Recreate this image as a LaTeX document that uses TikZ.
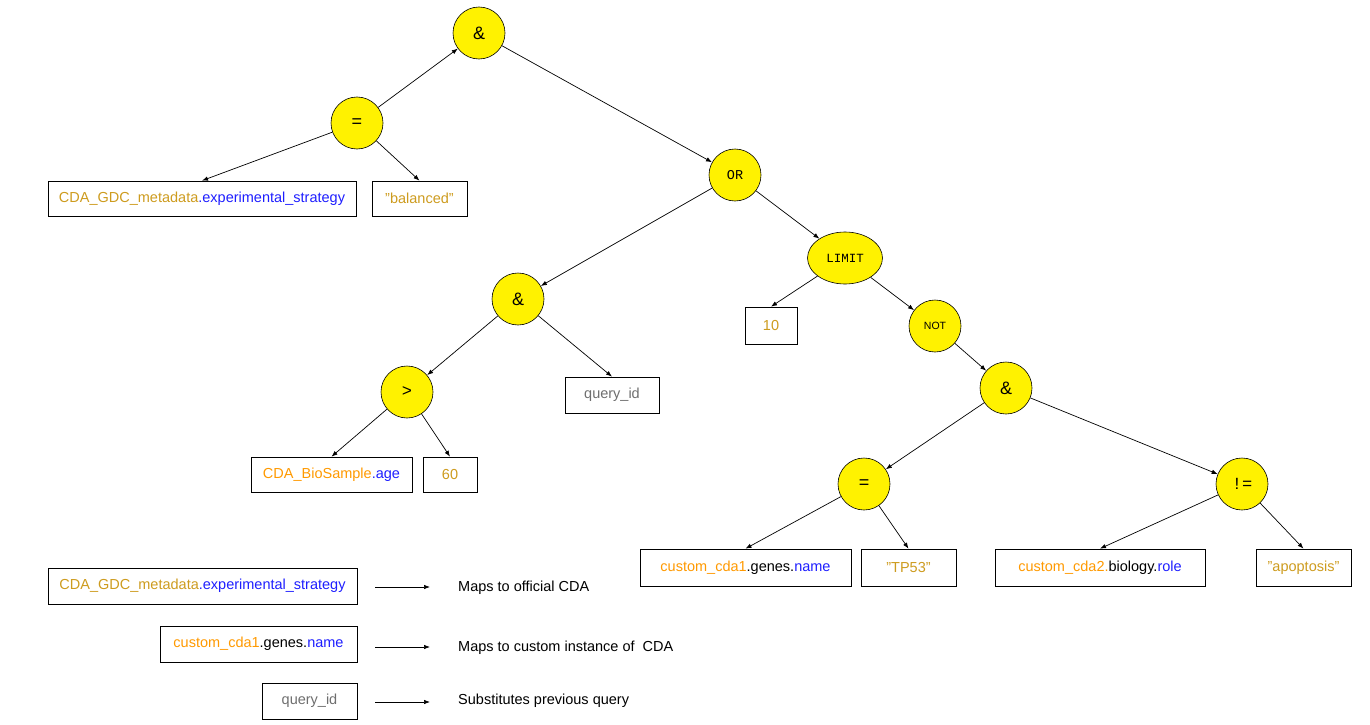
\documentclass[tikz,border=0pt]{standalone}
\usepackage{fontspec}
\setmainfont{Liberation Sans}
\newfontfamily\monof{Liberation Mono}
\usetikzlibrary{arrows.meta,shapes.geometric}
\definecolor{gold}{RGB}{205,155,30}
\definecolor{orng}{HTML}{FF9900}
\definecolor{blu}{RGB}{30,30,255}
\definecolor{gry}{RGB}{110,110,110}
\begin{document}
\begin{tikzpicture}[x=1pt,y=-1pt,
  op/.style={circle,draw,fill=yellow,minimum size=52pt,inner sep=0pt,line width=0.6pt},
  opell/.style={ellipse,draw,fill=yellow,minimum width=75pt,minimum height=52pt,inner sep=0pt,line width=0.6pt},
  leaf/.style={draw,rectangle,inner sep=0pt,minimum height=36pt,line width=0.7pt,font=\fontsize{14.5}{17}\selectfont},
  conn/.style={-{Latex[length=6pt,width=4.5pt]},line width=0.7pt},
  legtxt/.style={anchor=west,inner sep=0pt,font=\fontsize{14.5}{17}\selectfont},
  sansop/.style={font=\fontsize{18}{20}\selectfont},
  monoop/.style={font=\monof\fontsize{17}{19}\selectfont}
]
\useasboundingbox (0,0) rectangle (1370,725);

% operator nodes
\node[op,sansop] (amp1) at (479,33) {\&};
\node[op,sansop] (eq1) at (357,123) {=};
\node[op,font=\monof\fontsize{13.5}{15}\selectfont] (or) at (735,175) {OR};
\node[opell,font=\monof\fontsize{12.5}{14}\selectfont] (limit) at (845,258) {LIMIT};
\node[op,font=\fontsize{10.5}{12}\selectfont] (not) at (935,326) {NOT};
\node[op,sansop] (amp2) at (518,299) {\&};
\node[op,monoop] (gt) at (407,392) {>};
\node[op,sansop] (amp3) at (1006,388) {\&};
\node[op,sansop] (eq2) at (864,484) {=};
\node[op,monoop] (neq) at (1242,484) {!=};

% leaf boxes
\node[leaf,minimum width=308pt,minimum height=35pt] (gdc) at (202,198.5)
  {{\color{gold}CDA\_GDC\_metadata}{\color{blu}.experimental\_strategy}};
\node[leaf,minimum width=95pt,minimum height=35pt] (bal) at (419.5,198.5) {\color{gold}"balanced"};
\node[leaf,minimum width=52pt,minimum height=37pt] (ten) at (771,325.5) {\color{gold}10};
\node[leaf,minimum width=94pt] (qid) at (612,395) {\color{gry}query\_id};
\node[leaf,minimum width=161pt,minimum height=35pt] (bio) at (331.5,474.5)
  {{\color{orng}CDA\_BioSample}{\color{blu}.age}};
\node[leaf,minimum width=54pt,minimum height=35pt] (sixty) at (450,474.5) {\color{gold}60};
\node[leaf,minimum width=211pt,minimum height=37pt] (c1) at (745.5,567.5)
  {{\color{orng}custom\_cda1}.genes.{\color{blu}name}};
\node[leaf,minimum width=95pt,minimum height=37pt] (tp) at (908.5,567.5) {\color{gold}"TP53"};
\node[leaf,minimum width=210pt,minimum height=37pt] (c2) at (1100,567.5)
  {{\color{orng}custom\_cda2.}biology.{\color{blu}role}};
\node[leaf,minimum width=95pt,minimum height=37pt] (apo) at (1303.5,567.5) {\color{gold}"apoptosis"};

% edges
\draw[conn] (eq1) -- (amp1);
\draw[conn] (amp1) -- (or);
\draw[conn] (eq1) -- (gdc.north);
\draw[conn] (eq1) -- (bal.north);
\draw[conn] (or) -- (amp2);
\draw[conn] (or) -- (limit);
\draw[conn] (limit) -- (ten.north);
\draw[conn] (limit) -- (not);
\draw[conn] (amp2) -- (gt);
\draw[conn] (amp2) -- (qid.north);
\draw[conn] (gt) -- (bio.north);
\draw[conn] (gt) -- (sixty.north);
\draw[conn] (not) -- (amp3);
\draw[conn] (amp3) -- (eq2);
\draw[conn] (amp3) -- (neq);
\draw[conn] (eq2) -- (c1.north);
\draw[conn] (eq2) -- (tp.north);
\draw[conn] (neq) -- (c2.north);
\draw[conn] (neq) -- (apo.north);

% legend
\node[leaf,minimum width=309pt] (lgdc) at (202.5,586)
  {{\color{gold}CDA\_GDC\_metadata}{\color{blu}.experimental\_strategy}};
\node[leaf,minimum width=197pt] (lc1) at (258.5,644)
  {{\color{orng}custom\_cda1}.genes.{\color{blu}name}};
\node[leaf,minimum width=95pt] (lqid) at (309.5,701) {\color{gry}query\_id};

\coordinate (a1s) at (375,587); \coordinate (a1e) at (430,587);
\coordinate (a2s) at (375,647); \coordinate (a2e) at (430,647);
\coordinate (a3s) at (375,702); \coordinate (a3e) at (430,702);
\draw[conn] (a1s) -- (a1e);
\draw[conn] (a2s) -- (a2e);
\draw[conn] (a3s) -- (a3e);

\node[legtxt] (t1) at (458,588) {Maps to official CDA};
\node[legtxt] (t2) at (458,648) {Maps to custom instance of \ CDA};
\node[legtxt] (t3) at (458,701) {Substitutes previous query};
\end{tikzpicture}
\end{document}
